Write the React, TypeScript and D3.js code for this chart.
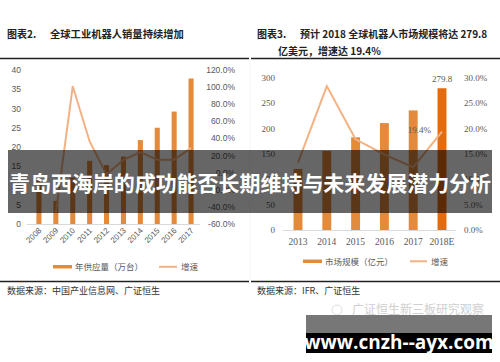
import React from "react";
import * as d3 from "d3";

const leftYears = ["2008","2009","2010","2011","2012","2013","2014","2015","2016","2017"];
const leftSupply = [11.3, 6.0, 12.1, 16.4, 15.3, 17.5, 21.8, 25.0, 29.2, 37.8];
const leftGrowth: (number | null)[] = [null, -47, 101, 36.5, -2, 15, 24, 15, 15, 29];
const leftYTicks = [0, 5, 10, 15, 20, 25, 30, 35, 40];
const leftY2Ticks = [-60, -40, -20, 0, 20, 40, 60, 80, 100, 120];

const rightYears = ["2013","2014","2015","2016","2017","2018E"];
const rightMarket = [120.5, 156, 183, 211, 236, 279.8];
const rightGrowth = [13.3, 28.4, 17.9, 14.9, 12.4, 19.4];
const rightYTicks = [0, 50, 100, 150, 200, 250, 300];
const rightY2Ticks = [0, 5, 10, 15, 20, 25, 30];

const SANS = "'Liberation Sans', 'Noto Sans CJK SC', sans-serif";
const SERIF = "'Liberation Serif', 'Noto Sans CJK SC', serif";
const CJK = "'Noto Sans CJK SC', sans-serif";
const GRAY = "#595959";
const LINE = "#F4B183";

export default function App() {
  // left chart scales
  const lx = d3.scaleBand().domain(leftYears).range([30.5, 199.5]).paddingInner(0.7).paddingOuter(0.35);
  const ly = d3.scaleLinear().domain([0, 40]).range([224, 70]);
  const ly2 = d3.scaleLinear().domain([-60, 120]).range([224, 70]);
  const lc = (d: string) => (lx(d) ?? 0) + lx.bandwidth() / 2;
  const lLine = d3.line<number | null>()
    .defined((d) => d !== null)
    .x((_, i) => lc(leftYears[i]))
    .y((d) => ly2(d as number));

  // right chart scales
  const rx = d3.scaleBand().domain(rightYears).range([283.6, 456.4]).paddingInner(0.69).paddingOuter(0.345);
  const ry = d3.scaleLinear().domain([0, 300]).range([230, 78]);
  const ry2 = d3.scaleLinear().domain([0, 30]).range([230, 78]);
  const rc = (d: string) => (rx(d) ?? 0) + rx.bandwidth() / 2;
  const rLine = d3.line<number>()
    .x((_, i) => rc(rightYears[i]))
    .y((d) => ry2(d));

  const lastR = rightYears.length - 1;

  return (
    <svg width={500} height={362} style={{ position: "absolute", left: 0, top: 0, background: "#fff" }}>
      <rect x={0} y={0} width={500} height={362} fill="#fff" />
      {/* titles */}
      <text x={7} y={38} fontFamily={CJK} fontWeight="bold" fontSize={10} fill="#222">图表2.</text>
      <text x={50} y={38} fontFamily={CJK} fontWeight="bold" fontSize={10.3} fill="#222">全球工业机器人销量持续增加</text>
      <text x={257} y={38} fontFamily={CJK} fontWeight="bold" fontSize={10} fill="#222">图表3.</text>
      <text x={300} y={38} fontFamily={CJK} fontWeight="bold" fontSize={10} fill="#222">预计 2018 全球机器人市场规模将达 279.8</text>
      <text x={278} y={55} fontFamily={CJK} fontWeight="bold" fontSize={10} fill="#222">亿美元，增速达 19.4%</text>
      {/* rules */}
      <line x1={0} x2={249} y1={58.5} y2={58.5} stroke="#222" strokeWidth={1.5} />
      <line x1={251} x2={500} y1={58.5} y2={58.5} stroke="#222" strokeWidth={1.5} />
      <line x1={0} x2={249} y1={281.5} y2={281.5} stroke="#222" strokeWidth={1.5} />
      <line x1={251} x2={500} y1={281.5} y2={281.5} stroke="#222" strokeWidth={1.5} />
      <line x1={250} x2={250} y1={59} y2={281} stroke="#e6e6e6" strokeWidth={0.5} />

      {/* LEFT CHART */}
      {leftYTicks.map((t) => (
        <text key={"ly" + t} x={21} y={ly(t) + 3} textAnchor="end" fontFamily={SANS} fontSize={8.5} fill={GRAY}>{t}</text>
      ))}
      {leftY2Ticks.map((t) => (
        <text key={"ly2" + t} x={235} y={ly2(t) + 3} textAnchor="end" fontFamily={SANS} fontSize={8.5} fill={GRAY}>{t.toFixed(1) + "%"}</text>
      ))}
      <line x1={27} x2={200} y1={224.5} y2={224.5} stroke="#d9d9d9" strokeWidth={1} />
      {leftYears.map((y, i) => (
        <rect key={"lb" + y} x={lx(y)} y={ly(leftSupply[i])} width={lx.bandwidth()} height={ly(0) - ly(leftSupply[i])} fill="#E38B3D" />
      ))}
      <path d={lLine(leftGrowth) ?? ""} fill="none" stroke={LINE} strokeWidth={2} />
      {leftYears.map((y) => (
        <text key={"lx" + y} transform={`translate(${lc(y) + 3},${231}) rotate(-45)`} textAnchor="end" fontFamily={SANS} fontSize={8} fill={GRAY}>{y}</text>
      ))}
      {/* left legend */}
      <rect x={53} y={265} width={19} height={3.5} fill="#E38B3D" />
      <text x={75} y={270} fontFamily={CJK} fontSize={8.5} fill={GRAY}>年供应量（万台）</text>
      <line x1={159} x2={177} y1={266.8} y2={266.8} stroke={LINE} strokeWidth={2} />
      <text x={181} y={270} fontFamily={CJK} fontSize={8.5} fill={GRAY}>增速</text>
      <text x={7} y={294} fontFamily={CJK} fontSize={9} fill="#333">数据来源：中国产业信息网、广证恒生</text>

      {/* RIGHT CHART */}
      {rightYTicks.map((t) => (
        <text key={"ry" + t} x={275} y={ry(t) + 3} textAnchor="end" fontFamily={SERIF} fontSize={9} fill={GRAY}>{t}</text>
      ))}
      {rightY2Ticks.map((t) => (
        <text key={"ry2" + t} x={464} y={ry2(t) + 3} textAnchor="start" fontFamily={SERIF} fontSize={9} fill={GRAY}>{t.toFixed(1) + "%"}</text>
      ))}
      <line x1={283} x2={456} y1={230.5} y2={230.5} stroke="#d9d9d9" strokeWidth={1} />
      {rightYears.map((y, i) => (
        <rect key={"rb" + y} x={rx(y)} y={ry(rightMarket[i])} width={rx.bandwidth()} height={ry(0) - ry(rightMarket[i])} fill={i === lastR ? "#E56C0E" : "#E38B3D"} />
      ))}
      <path d={rLine(rightGrowth) ?? ""} fill="none" stroke={LINE} strokeWidth={2} />
      <text x={rc(rightYears[lastR])} y={ry(rightMarket[lastR]) - 6} textAnchor="middle" fontFamily={SERIF} fontSize={9} fill={GRAY}>{rightMarket[lastR].toFixed(1)}</text>
      <text x={rc(rightYears[lastR]) - 11} y={ry2(rightGrowth[lastR]) + 1} textAnchor="end" fontFamily={SERIF} fontSize={9} fill={GRAY}>{rightGrowth[lastR].toFixed(1) + "%"}</text>
      {rightYears.map((y) => (
        <text key={"rx" + y} x={rc(y)} y={245} textAnchor="middle" fontFamily={SERIF} fontSize={9.5} fill={GRAY}>{y}</text>
      ))}
      {/* right legend */}
      <rect x={303} y={259.5} width={19} height={3.5} fill="#E38B3D" />
      <text x={325} y={264.5} fontFamily={CJK} fontSize={8.5} fill={GRAY}>市场规模（亿元）</text>
      <line x1={410} x2={427} y1={261.3} y2={261.3} stroke={LINE} strokeWidth={2} />
      <text x={431} y={264.5} fontFamily={CJK} fontSize={8.5} fill={GRAY}>增速</text>
      <text x={257} y={294} fontFamily={CJK} fontSize={9} fill="#333">数据来源：IFR、广证恒生</text>

      {/* banner overlay */}
      <rect x={8} y={150} width={484} height={63} fill="rgba(0,0,0,0.6)" />
      <text x={250} y={191} textAnchor="middle" fontFamily={CJK} fontWeight="bold" fontSize={21} fill="#fff" textLength={482} lengthAdjust="spacingAndGlyphs">青岛西海岸的成功能否长期维持与未来发展潜力分析</text>

      {/* watermark */}
      <circle cx={337} cy={310} r={5} fill="none" stroke="#ddd" strokeWidth={1} />
      <text x={352} y={314} fontFamily={CJK} fontSize={12} fill="#d0d0d0">广证恒生新三板研究观察</text>
      <rect x={306} y={315} width={186} height={18} fill="#777" />
      <rect x={306} y={333} width={186} height={20} fill="#000" />
      <text x={399} y={349} textAnchor="middle" fontFamily="'Open Sans', 'Liberation Sans', sans-serif" fontWeight="bold" fontSize={19} fill="#fff">www.cnzh--ayx.com</text>
    </svg>
  );
}
